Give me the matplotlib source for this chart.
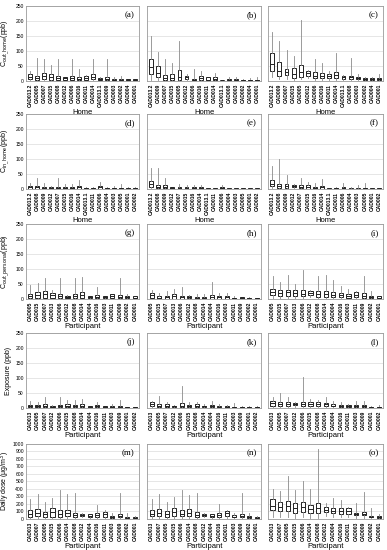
import matplotlib
matplotlib.use("Agg")
import matplotlib.pyplot as plt

plt.rcParams['font.family'] = ['Liberation Sans', 'DejaVu Sans']

# category labels
home_a = ["CAD013.2", "CAD005", "CAD007", "CAD015", "CAD008", "CAD012", "CAD006", "CAD016",
          "CAD011", "CAD014", "CAD013.1", "CAD009", "CAD003", "CAD002", "CAD004", "CAD001"]
home_bc = ["CAD013.2", "CAD009", "CAD007", "CAD015", "CAD005", "CAD012", "CAD006", "CAD016",
           "CAD011", "CAD014", "CAD013.1", "CAD008", "CAD003", "CAD002", "CAD004", "CAD001"]
home_def = ["CAD013.2", "CAD008", "CAD009", "CAD012", "CAD007", "CAD015", "CAD016", "CAD014",
            "CAD013.1", "CAD011", "CAD006", "CAD004", "CAD003", "CAD005", "CAD001", "CAD002"]
part_ghi = ["CAD005", "CAD015", "CAD007", "CAD013", "CAD006", "CAD012", "CAD008", "CAD014",
            "CAD004", "CAD016", "CAD003", "CAD011", "CAD009", "CAD002", "CAD001"]
part_jkl = ["CAD013", "CAD005", "CAD007", "CAD012", "CAD006", "CAD015", "CAD008", "CAD014",
            "CAD004", "CAD016", "CAD011", "CAD003", "CAD009", "CAD001", "CAD002"]
part_mno = ["CAD013", "CAD007", "CAD005", "CAD015", "CAD006", "CAD014", "CAD008", "CAD012",
            "CAD004", "CAD016", "CAD011", "CAD003", "CAD009", "CAD002", "CAD001"]

# (whisker low, q1, median, q3, whisker high) per category
stats_a = [(2, 6, 15, 24, 32), (1, 3, 10, 17, 77), (2, 6, 16, 26, 72), (1, 4, 14, 24, 53),
           (2, 5, 10, 17, 72), (2, 5, 9, 12, 15), (2, 5, 10, 17, 72), (1, 3, 8, 12, 41),
           (2, 5, 10, 17, 20), (2, 6, 13, 22, 75), (2, 5, 7, 10, 12), (1, 3, 8, 15, 72),
           (1, 3, 5, 8, 14), (1, 2, 4, 7, 17), (1, 2, 4, 6, 8), (1, 2, 4, 6, 7)]
stats_b = [(3, 24, 48, 74, 151), (2, 12, 28, 51, 97), (1, 3, 10, 20, 74), (1, 3, 10, 22, 60),
           (1, 3, 15, 37, 134), (2, 6, 12, 18, 24), (1, 3, 5, 7, 40), (1, 5, 9, 16, 32),
           (1, 3, 5, 12, 15), (1, 3, 6, 12, 26), (0, 2, 3, 4, 5), (1, 3, 4, 8, 12),
           (1, 2, 4, 6, 15), (0, 1, 3, 5, 8), (0, 1, 3, 5, 10), (0, 1, 3, 5, 15)]
stats_c = [(12, 34, 57, 92, 162), (7, 17, 35, 65, 132), (8, 19, 30, 41, 102), (5, 11, 25, 43, 83),
           (7, 14, 30, 52, 202), (10, 17, 26, 35, 37), (3, 9, 18, 30, 74), (4, 10, 17, 26, 60),
           (4, 9, 16, 24, 32), (4, 11, 20, 31, 94), (3, 8, 12, 17, 19), (2, 7, 12, 17, 76),
           (2, 6, 9, 12, 24), (1, 4, 6, 9, 15), (1, 4, 6, 9, 15), (1, 5, 7, 10, 24)]
stats_d = [(0, 1, 5, 9, 20), (0, 1, 5, 9, 36), (0, 1, 4, 7, 20), (0, 1, 3, 5, 9),
           (0, 1, 4, 8, 35), (0, 1, 3, 7, 15), (0, 1, 3, 5, 17), (0, 1, 5, 9, 29),
           (0, 1, 2, 4, 8), (0, 1, 2, 4, 8), (0, 1, 5, 9, 24), (0, 1, 2, 4, 7),
           (0, 1, 2, 4, 10), (0, 1, 2, 4, 18), (0, 1, 2, 3, 5), (0, 1, 2, 3, 5)]
stats_e = [(2, 8, 17, 26, 70), (0, 2, 8, 14, 70), (0, 2, 8, 14, 38), (0, 1, 3, 6, 6),
           (0, 1, 3, 6, 16), (0, 1, 3, 6, 14), (0, 1, 3, 5, 12), (0, 1, 3, 5, 12),
           (0, 0, 1, 2, 3), (0, 0, 1, 2, 4), (0, 1, 3, 5, 14), (0, 0, 1, 2, 3),
           (0, 0, 1, 2, 3), (0, 0, 1, 2, 3), (0, 0, 1, 2, 3), (0, 0, 1, 2, 3)]
stats_f = [(2, 9, 18, 29, 76), (1, 3, 10, 18, 100), (1, 3, 10, 18, 47), (2, 5, 9, 14, 15),
           (1, 2, 7, 14, 35), (0, 1, 6, 12, 24), (0, 1, 4, 8, 21), (0, 1, 5, 9, 33),
           (0, 0, 1, 2, 4), (0, 0, 2, 3, 5), (0, 1, 3, 6, 21), (0, 0, 1, 2, 5),
           (0, 0, 1, 3, 12), (0, 1, 2, 3, 20), (0, 0, 1, 2, 3), (0, 0, 1, 2, 3)]
stats_g = [(1, 2, 10, 17, 47), (1, 2, 13, 24, 53), (2, 4, 15, 26, 70), (2, 4, 12, 19, 31),
           (1, 3, 10, 18, 70), (2, 4, 7, 11, 13), (1, 3, 10, 18, 70), (2, 4, 13, 22, 74),
           (1, 2, 5, 9, 11), (1, 3, 7, 13, 40), (1, 2, 5, 9, 11), (2, 4, 10, 17, 18),
           (1, 2, 8, 14, 70), (1, 2, 6, 11, 18), (1, 2, 4, 9, 9)]
stats_h = [(2, 4, 12, 20, 31), (0, 0, 4, 9, 20), (1, 1, 6, 11, 26), (0, 1, 10, 18, 33),
           (0, 0, 6, 11, 40), (1, 2, 7, 9, 13), (0, 0, 2, 6, 18), (0, 0, 4, 7, 18),
           (1, 1, 8, 14, 56), (0, 1, 5, 9, 20), (0, 1, 5, 9, 20), (0, 0, 2, 4, 11),
           (0, 0, 4, 7, 8), (0, 0, 2, 4, 5), (0, 0, 2, 3, 4)]
stats_i = [(0, 12, 22, 33, 76), (1, 9, 20, 31, 56), (2, 11, 22, 31, 81), (2, 11, 20, 31, 51),
           (1, 9, 18, 31, 98), (5, 13, 19, 26, 31), (1, 7, 16, 26, 76), (1, 7, 17, 28, 81),
           (2, 7, 14, 22, 64), (2, 7, 13, 20, 42), (2, 4, 9, 17, 34), (2, 7, 14, 22, 26),
           (1, 4, 10, 20, 76), (1, 2, 5, 11, 26), (1, 2, 4, 9, 10)]
stats_j = [(0, 2, 6, 10, 22), (0, 2, 6, 10, 19), (0, 2, 7, 12, 36), (0, 2, 4, 7, 10),
           (0, 2, 6, 10, 36), (0, 2, 8, 14, 25), (0, 2, 6, 10, 28), (0, 2, 8, 12, 30),
           (0, 1, 3, 6, 7), (0, 2, 5, 9, 20), (0, 1, 4, 7, 8), (0, 1, 3, 5, 12),
           (0, 1, 4, 8, 25), (0, 1, 2, 3, 4), (0, 1, 2, 3, 4)]
stats_k = [(0, 5, 12, 20, 24), (0, 4, 8, 14, 41), (0, 4, 7, 13, 20), (0, 3, 5, 7, 11),
           (0, 4, 8, 15, 73), (0, 4, 6, 11, 19), (0, 4, 7, 13, 19), (0, 2, 5, 8, 13),
           (0, 4, 6, 11, 22), (0, 2, 4, 7, 13), (0, 1, 3, 5, 9), (0, 1, 2, 4, 15),
           (0, 1, 2, 4, 5), (0, 1, 2, 4, 5), (0, 1, 2, 3, 5)]
stats_l = [(2, 7, 16, 24, 35), (2, 7, 14, 20, 50), (2, 7, 14, 20, 38), (4, 9, 12, 15, 20),
           (2, 7, 14, 20, 102), (2, 7, 13, 20, 30), (2, 7, 13, 20, 27), (2, 7, 12, 18, 37),
           (1, 5, 8, 13, 24), (1, 4, 7, 11, 20), (1, 4, 6, 11, 13), (1, 4, 6, 11, 22),
           (0, 3, 5, 9, 22), (0, 1, 2, 4, 5), (0, 1, 2, 4, 11)]
stats_m = [(5, 30, 70, 115, 264), (5, 38, 80, 132, 336), (5, 30, 60, 98, 230), (5, 30, 90, 150, 285),
           (5, 30, 70, 115, 392), (5, 38, 85, 123, 328), (5, 20, 50, 80, 350), (20, 42, 55, 68, 80),
           (5, 25, 45, 60, 72), (5, 30, 50, 80, 190), (10, 30, 70, 98, 115), (5, 15, 30, 45, 85),
           (5, 20, 35, 60, 350), (2, 10, 18, 30, 80), (1, 8, 12, 20, 35)]
stats_n = [(5, 34, 70, 119, 260), (5, 43, 85, 136, 332), (5, 26, 60, 102, 230), (5, 34, 95, 145, 290),
           (5, 34, 70, 119, 388), (5, 38, 80, 127, 315), (5, 26, 55, 90, 345), (20, 40, 55, 70, 77),
           (5, 25, 45, 60, 72), (5, 30, 50, 80, 196), (10, 34, 75, 102, 120), (5, 20, 30, 47, 85),
           (5, 20, 35, 60, 345), (2, 12, 20, 34, 80), (1, 8, 14, 25, 40)]
stats_o = [(30, 115, 170, 260, 404), (20, 106, 160, 221, 370), (20, 106, 170, 234, 570),
           (15, 85, 140, 217, 380), (20, 94, 160, 230, 500), (15, 85, 130, 190, 404),
           (15, 85, 140, 212, 930), (40, 98, 125, 157, 213), (30, 85, 110, 149, 285),
           (20, 72, 100, 140, 255), (20, 72, 110, 149, 166), (15, 47, 60, 81, 213),
           (15, 50, 60, 90, 362), (5, 20, 30, 40, 145), (5, 18, 25, 35, 72)]

panel_ids = ["(a)", "(b)", "(c)", "(d)", "(e)", "(f)", "(g)", "(h)", "(i)",
             "(j)", "(k)", "(l)", "(m)", "(n)", "(o)"]
row_ylabels = [r"C$_{\mathrm{out\_home}}$(ppb)", r"C$_{\mathrm{in\_home}}$(ppb)",
               r"C$_{\mathrm{out\_personal}}$(ppb)", "Exposure (ppb)", "Daily dose (μg/m$^3$)"]
row_xlabels = ["Home", "Home", "Participant", "Participant", "Participant"]
row_ymax = [250, 250, 250, 250, 1000]
row_ystep = [50, 50, 50, 50, 100]

all_stats = [stats_a, stats_b, stats_c, stats_d, stats_e, stats_f, stats_g, stats_h,
             stats_i, stats_j, stats_k, stats_l, stats_m, stats_n, stats_o]
all_labels = [home_a, home_bc, home_bc, home_def, home_def, home_def,
              part_ghi, part_ghi, part_ghi, part_jkl, part_jkl, part_jkl,
              part_mno, part_mno, part_mno]

fig = plt.figure(figsize=(3.87, 5.5), dpi=100)
col_left = [0.066, 0.380, 0.6925]
col_w = [0.294, 0.295, 0.298]
row_bottom = [0.8527, 0.6564, 0.4564, 0.2582, 0.0564]
row_h = 0.1364

for idx in range(15):
    r, c = divmod(idx, 3)
    ax = fig.add_axes([col_left[c], row_bottom[r], col_w[c], row_h])
    labels = all_labels[idx]
    bstats = []
    for lab, (lo, q1, med, q3, hi) in zip(labels, all_stats[idx]):
        bstats.append(dict(label=lab, whislo=lo, q1=q1, med=med, q3=q3, whishi=hi, fliers=[]))
    ax.bxp(bstats, showfliers=False, patch_artist=True, widths=0.55,
           boxprops=dict(facecolor='white', edgecolor='#222222', linewidth=0.7),
           medianprops=dict(color='#222222', linewidth=0.7),
           whiskerprops=dict(color='#8a8a8a', linewidth=0.6),
           capprops=dict(linewidth=0), zorder=3)
    ax.set_xlim(0.4, len(labels) + 0.6)
    ax.set_ylim(0, row_ymax[r])
    ax.set_yticks(range(0, row_ymax[r] + 1, row_ystep[r]))
    ax.grid(axis='y', color='#dcdcdc', linewidth=0.5, zorder=0)
    ax.set_axisbelow(True)
    for s in ax.spines.values():
        s.set_color('#9a9a9a')
        s.set_linewidth(0.6)
    ax.tick_params(axis='x', labelrotation=90, length=0, pad=2)
    for t in ax.get_xticklabels():
        t.set_fontweight('bold')
        t.set_fontsize(3.6)
        t.set_family(['Liberation Sans Narrow', 'Liberation Sans'])
    ax.tick_params(axis='y', labelsize=3.6, length=0, pad=1.2)
    if c == 0:
        ax.set_ylabel(row_ylabels[r], fontsize=5)
        ax.yaxis.set_label_coords(-0.118, 0.5)
    else:
        ax.set_yticklabels([])
    ax.set_xlabel(row_xlabels[r], fontsize=5.5, labelpad=1)
    ax.text(0.96, 0.88, panel_ids[idx], transform=ax.transAxes, ha='right', va='center',
            fontsize=6.5, family=['Liberation Serif', 'DejaVu Serif'])

fig.savefig("out.png", dpi=100)
